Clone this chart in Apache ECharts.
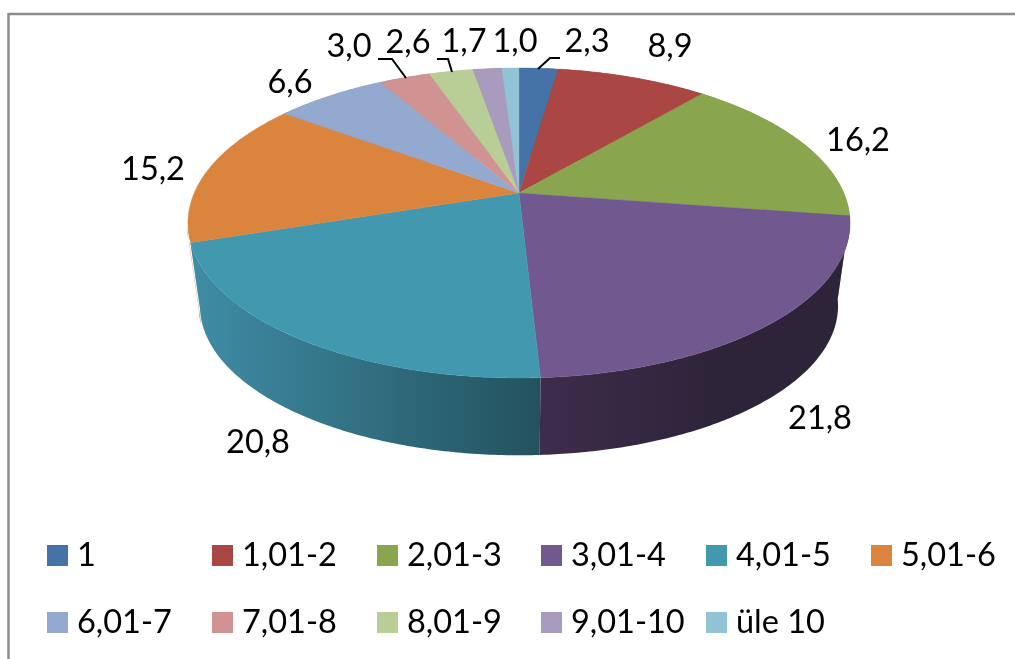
<!DOCTYPE html>
<html><head><meta charset="utf-8">
<style>html,body{margin:0;padding:0;background:#fff}#c{width:1015px;height:659px}</style>
<script src="https://cdn.jsdelivr.net/npm/echarts@6/dist/echarts.min.js"></script>
</head><body><div id="c"></div>
<script>
const categories = ['1','1,01-2','2,01-3','3,01-4','4,01-5','5,01-6','6,01-7','7,01-8','8,01-9','9,01-10','üle 10'];
const values = [2.3,8.9,16.2,21.8,20.8,15.2,6.6,3.0,2.6,1.7,1.0];
const valueLabels = ['2,3','8,9','16,2','21,8','20,8','15,2','6,6','3,0','2,6','1,7','1,0'];
const topColors = ['#4572a7','#aa4643','#89a54e','#71588f','#4198af','#db843d','#93a9cf','#d19392','#b9cd96','#a99bbd','#91c3d5'];

// presentation settings
const FONT = '"Lato","Noto Sans",sans-serif';
const FS = 32.5;
const apex = {x:519,y:193}, k = 0.1935, a = 324.8, b = 149.2;
const depthScale = 0.9637, baseApexY = 277;
const labelAnchors = [[587,42],[670,47],[858,141],[820,419],[258,443],[153,170],[290,83],[349,47],[408,43],[464,42],[515,42]];
const leaders = {0:[[538,69],[550,58],[560,58]],7:[[378,59],[392,59],[406,78]],8:[[437,59],[448,59],[452,72]]};
const legendX = [47,212,377,541,706,871], legendY = [539,606];
const wallFills = {
  3:{x:540,x2:720,stops:['#3e2c4b','#2d2439']},
  4:{x:195,x2:540,stops:['#3f8ca5','#23525e']}
};
// the teal wall turns past its slice edge up to the outline of the disc (radians)
const wallReach = {4:0.1};
// the orange wall only shows as a hairline beside it: px shift, and how far along its slice it runs (radians)
const wallShift = {5:-1.3};
const wallSpan = {5:0.1};

const total = values.reduce((s,v)=>s+v,0);
const starts = []; values.reduce((s,v,i)=>{starts[i]=s;return s+v;},0);
const ang = f => f/total*2*Math.PI;
function topPt(t){
  const u=Math.sin(t), v=-Math.cos(t), d=1-k*v;
  return [apex.x+a*u/d, apex.y+b*v/d];
}
function basePt(t){
  const p=topPt(t);
  return [apex.x+depthScale*(p[0]-apex.x), baseApexY+depthScale*(p[1]-apex.y)];
}
function shade(hex,f){
  const n=parseInt(hex.slice(1),16);
  const c=[n>>16,(n>>8)&255,n&255].map(x=>Math.round(x*f));
  return 'rgb('+c.join(',')+')';
}
function renderSlice(i){
  return function(){
    const t0=ang(starts[i]), t1=ang(starts[i]+values[i]);
    const n=Math.max(4,Math.ceil((t1-t0)/0.01));
    const tw=wallSpan[i]!==undefined ? t0+wallSpan[i] : t1+(wallReach[i]||0), sh=wallShift[i]||0;
    const rim=[], wallTop=[], wallBase=[];
    for(let j=0;j<=n;j++){
      const s=j/n;
      rim.push(topPt(t0+(t1-t0)*s));
      const w=t0+(tw-t0)*s, p=topPt(w), q=basePt(w);
      wallTop.push([p[0]+sh,p[1]]);
      wallBase.push([q[0]+sh,q[1]]);
    }
    const wf=wallFills[i];
    const wallFill=wf?{type:'linear',x:wf.x,y:0,x2:wf.x2,y2:0,global:true,
      colorStops:[{offset:0,color:wf.stops[0]},{offset:1,color:wf.stops[1]}]}:shade(topColors[i],0.9);
    const lp=labelAnchors[i];
    const children=[
      {type:'polygon',z2:i===5?0:1+i,shape:{points:wallTop.concat(wallBase.slice().reverse())},style:{fill:wallFill}},
      {type:'polygon',z2:100,shape:{points:[[apex.x,apex.y]].concat(rim)},style:{fill:topColors[i],stroke:topColors[i],lineWidth:0.4}},
      {type:'text',z2:200,style:{x:lp[0],y:lp[1],text:valueLabels[i],fill:'#000',font:FS+'px '+FONT,textAlign:'center',textVerticalAlign:'middle'}}
    ];
    if(leaders[i]) children.push({type:'polyline',z2:150,shape:{points:leaders[i]},style:{fill:'none',stroke:'#000',lineWidth:2}});
    return {type:'group',children};
  };
}
const series=categories.map((name,i)=>({
  type:'custom',name,coordinateSystem:'none',data:[values[i]],silent:true,animation:false,
  itemStyle:{color:topColors[i]},renderItem:renderSlice(i)
}));
const legend=categories.map((name,i)=>({
  data:[{name,icon:'rect',itemStyle:{color:topColors[i]}}],
  left:legendX[i%6],top:legendY[Math.floor(i/6)],orient:'horizontal',
  padding:0,itemWidth:21,itemHeight:21,selectedMode:false,
  textStyle:{fontFamily:FONT,fontSize:FS,color:'#000',padding:[0,0,0,4]}
}));
const chart=echarts.init(document.getElementById('c'),null,{renderer:'canvas'});
chart.setOption({
  backgroundColor:'#fff',animation:false,legend,series,
  graphic:[
    {type:'line',z:-1,silent:true,shape:{x1:8.5,y1:14,x2:1015,y2:14},style:{stroke:'#8c8c8c',lineWidth:2.5}},
    {type:'line',z:-1,silent:true,shape:{x1:8.5,y1:13,x2:8.5,y2:659},style:{stroke:'#8c8c8c',lineWidth:2.5}}
  ]
});
</script></body></html>
